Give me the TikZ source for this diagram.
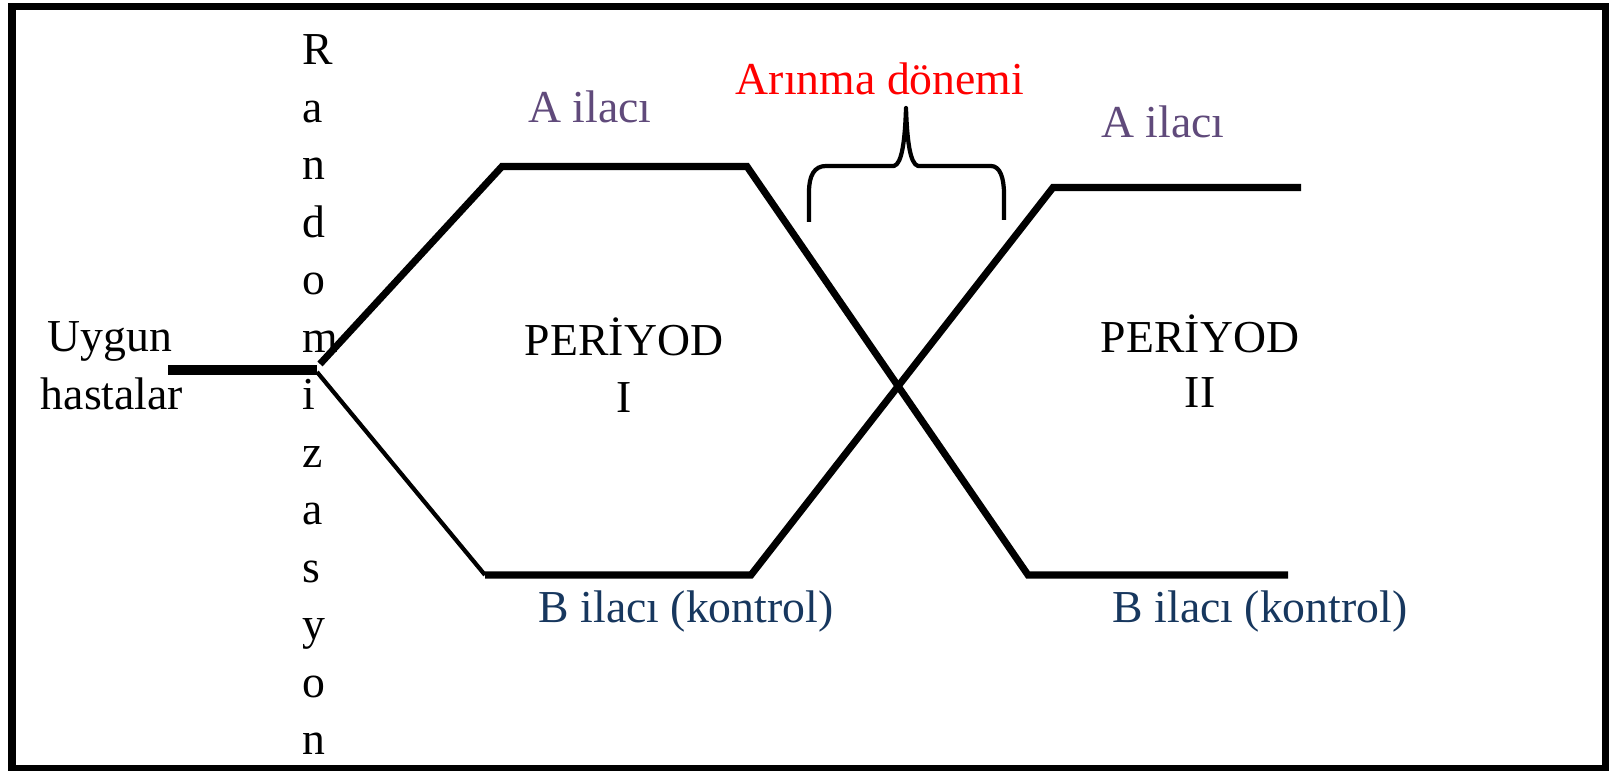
\documentclass[tikz,border=0pt]{standalone}
\usepackage{fontspec}
\setmainfont{Liberation Serif}
\definecolor{drugA}{HTML}{604A7B}
\definecolor{drugB}{HTML}{17375E}
\definecolor{washout}{HTML}{FF0000}
\begin{document}
\begin{tikzpicture}[x=0.01cm,y=-0.01cm,
  lbl/.style={inner sep=0pt, anchor=base, font=\fontsize{13}{16}\selectfont},
  letter/.style={inner sep=0pt, anchor=base west, font=\fontsize{13}{16}\selectfont},
  arm/.style={line width=2pt, line join=miter},
  thinarm/.style={line width=1.2pt},
  entry/.style={line width=2.7pt},
  bracepath/.style={line width=1.2pt, line join=round}]
\useasboundingbox (0,0) rectangle (1612,771);
\fill[white] (0,0) rectangle (1612,771);
% outer frame
\draw[line width=2.1pt] (12,6.5) rectangle (1605.5,769);

% labels
\node[lbl] (uygun) at (110,352) {Uygun};
\node[lbl] (hasta) at (112,410) {hastalar};
\foreach \ch [count=\i from 0] in {R,a,n,d,o,m,i,z,a,s,y,o,n}
  \node[letter] (r\i) at (302,65+57.5*\i) {\ch};

\node[lbl, text=drugA] (aone) at (590,123) {A ilacı};
\node[lbl, text=drugA] (atwo) at (1163,138) {A ilacı};
\node[lbl, text=washout] (wash) at (880,95) {Arınma dönemi};
\node[lbl] (pone) at (624,356) {PERİYOD};
\node[lbl] (pnone) at (624,413) {I};
\node[lbl] (ptwo) at (1200,353) {PERİYOD};
\node[lbl] (pntwo) at (1200,408) {II};
\node[lbl, text=drugB] (bone) at (686,623) {B ilacı (kontrol)};
\node[lbl, text=drugB] (btwo) at (1260,623) {B ilacı (kontrol)};

% branch points
\coordinate (u0) at (168,370);
\coordinate (u1) at (317,370);
\coordinate (a0) at (320,364);
\coordinate (a1) at (502,166.5);
\coordinate (a2) at (747,166.5);
\coordinate (a3) at (1028,575);
\coordinate (a4) at (1288,575);
\coordinate (b0) at (317,372);
\coordinate (b1) at (485,575);
\coordinate (b2) at (751,575);
\coordinate (b3) at (1053,187.5);
\coordinate (b4) at (1301,187.5);

% patients entering randomisation
\draw[entry] (u0) -- (u1);
% drug A first, then drug B
\draw[arm] (a0) -- (a1) -- (a2) -- (a3) -- (a4);
% drug B first, then drug A
\draw[thinarm] (b0) -- (b1);
\draw[arm] (b1) -- (b2) -- (b3) -- (b4);

% brace over the washout period
\coordinate (bl) at (809,222);
\coordinate (br) at (1004,220);
\coordinate (tip) at (906,108);
\draw[bracepath] (bl) -- (809,192) .. controls (809,176) and (814,166) .. (826,166)
  -- (894,166) .. controls (902,164) and (905,140) .. (tip)
  .. controls (907,140) and (910,164) .. (918,166)
  -- (991,166) .. controls (1000,166) and (1004,178) .. (1004,194) -- (br);
\end{tikzpicture}
\end{document}
